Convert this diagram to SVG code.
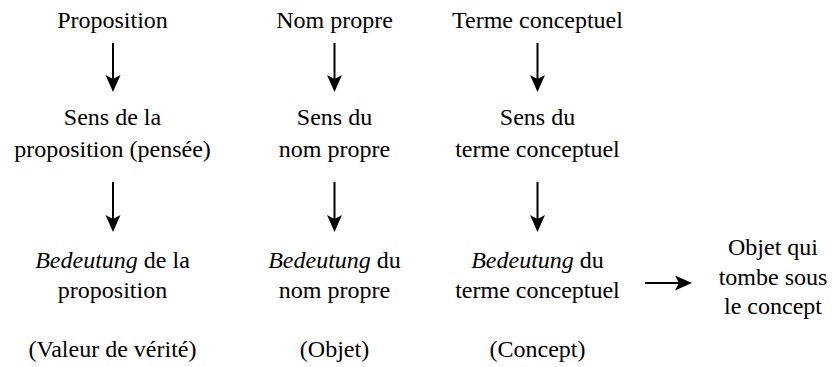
<svg xmlns="http://www.w3.org/2000/svg" width="835" height="367" viewBox="0 0 835 367">
<rect width="835" height="367" fill="#fff"/>
<g id="n-proposition"><text x="112.5" y="28" style="font-family:'Liberation Serif',serif;font-size:24px" text-anchor="middle">Proposition</text></g>
<g id="n-nom-propre"><text x="334.5" y="28" style="font-family:'Liberation Serif',serif;font-size:24px" text-anchor="middle">Nom propre</text></g>
<g id="n-terme"><text x="537.5" y="28" style="font-family:'Liberation Serif',serif;font-size:24px" text-anchor="middle">Terme conceptuel</text></g>
<g id="n-sens-prop"><text x="112.5" y="125" style="font-family:'Liberation Serif',serif;font-size:24px" text-anchor="middle">Sens de la</text><text x="112.5" y="157" style="font-family:'Liberation Serif',serif;font-size:24px" text-anchor="middle">proposition (pensée)</text></g>
<g id="n-sens-nom"><text x="334.5" y="125" style="font-family:'Liberation Serif',serif;font-size:24px" text-anchor="middle">Sens du</text><text x="334.5" y="157" style="font-family:'Liberation Serif',serif;font-size:24px" text-anchor="middle">nom propre</text></g>
<g id="n-sens-terme"><text x="537.5" y="125" style="font-family:'Liberation Serif',serif;font-size:24px" text-anchor="middle">Sens du</text><text x="537.5" y="157" style="font-family:'Liberation Serif',serif;font-size:24px" text-anchor="middle">terme conceptuel</text></g>
<g id="n-bed-prop"><text x="112.5" y="268" style="font-family:'Liberation Serif',serif;font-size:24px" text-anchor="middle"><tspan font-style="italic">Bedeutung</tspan> de la</text><text x="112.5" y="298" style="font-family:'Liberation Serif',serif;font-size:24px" text-anchor="middle">proposition</text></g>
<g id="n-bed-nom"><text x="334.5" y="268" style="font-family:'Liberation Serif',serif;font-size:24px" text-anchor="middle"><tspan font-style="italic">Bedeutung</tspan> du</text><text x="334.5" y="298" style="font-family:'Liberation Serif',serif;font-size:24px" text-anchor="middle">nom propre</text></g>
<g id="n-bed-terme"><text x="537.5" y="268" style="font-family:'Liberation Serif',serif;font-size:24px" text-anchor="middle"><tspan font-style="italic">Bedeutung</tspan> du</text><text x="537.5" y="298" style="font-family:'Liberation Serif',serif;font-size:24px" text-anchor="middle">terme conceptuel</text></g>
<g id="n-objet-concept"><text x="773" y="255" style="font-family:'Liberation Serif',serif;font-size:24px" text-anchor="middle">Objet qui</text><text x="773" y="285" style="font-family:'Liberation Serif',serif;font-size:24px" text-anchor="middle">tombe sous</text><text x="773" y="314" style="font-family:'Liberation Serif',serif;font-size:24px" text-anchor="middle">le concept</text></g>
<g id="n-valeur"><text x="112.5" y="357" style="font-family:'Liberation Serif',serif;font-size:24px" text-anchor="middle">(Valeur de vérité)</text></g>
<g id="n-objet"><text x="334.5" y="357" style="font-family:'Liberation Serif',serif;font-size:24px" text-anchor="middle">(Objet)</text></g>
<g id="n-concept"><text x="537.5" y="357" style="font-family:'Liberation Serif',serif;font-size:24px" text-anchor="middle">(Concept)</text></g>
<g id="connectors" stroke="#000" stroke-width="2" fill="#000">
<line x1="113" y1="43" x2="113" y2="80"/><polygon stroke="none" points="105.5,75 113,92 120.5,75 113,79"/>
<line x1="334.5" y1="43" x2="334.5" y2="80"/><polygon stroke="none" points="327,75 334.5,92 342,75 334.5,79"/>
<line x1="537.5" y1="43" x2="537.5" y2="80"/><polygon stroke="none" points="530,75 537.5,92 545,75 537.5,79"/>
<line x1="113" y1="182" x2="113" y2="220"/><polygon stroke="none" points="105.5,215 113,232 120.5,215 113,219"/>
<line x1="334.5" y1="182" x2="334.5" y2="220"/><polygon stroke="none" points="327,215 334.5,232 342,215 334.5,219"/>
<line x1="537.5" y1="182" x2="537.5" y2="220"/><polygon stroke="none" points="530,215 537.5,232 545,215 537.5,219"/>
<line x1="645" y1="283" x2="680" y2="283"/><polygon stroke="none" points="675,275.5 692,283 675,290.5 679,283"/>
</g>
</svg>
